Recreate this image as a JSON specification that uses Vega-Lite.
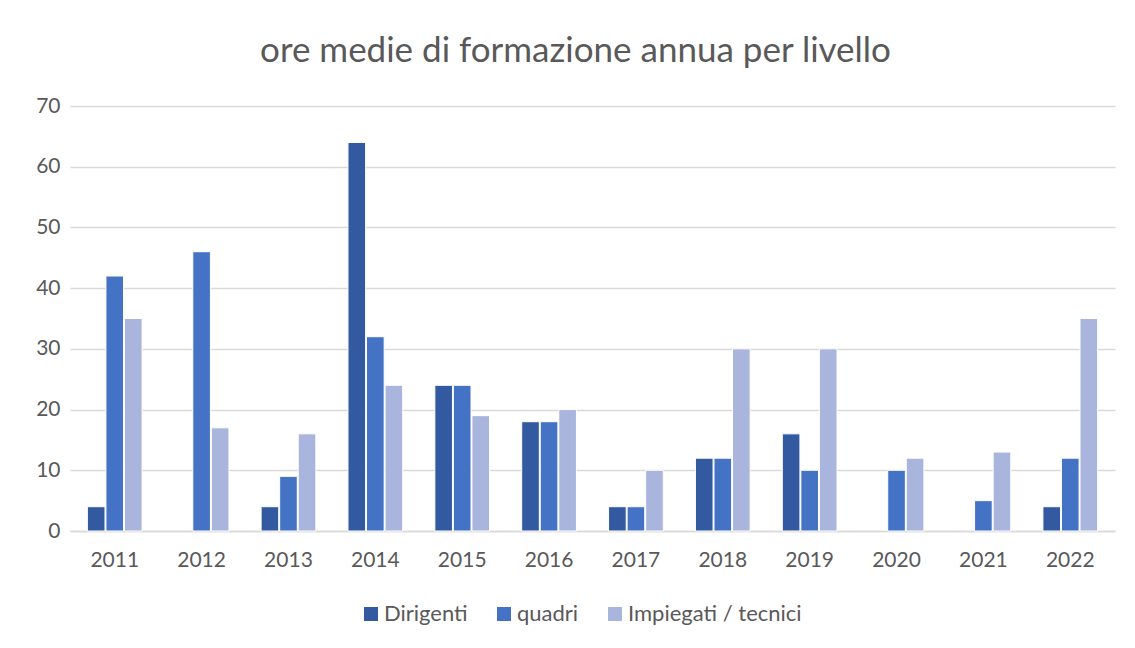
{
  "$schema": "https://vega.github.io/schema/vega-lite/v6.json",
  "autosize": "none",
  "width": 1045,
  "height": 425,
  "padding": {"left": 70, "top": 106, "right": 20, "bottom": 117},
  "background": "white",
  "title": {
    "text": "ore medie di formazione annua per livello",
    "fontSize": 35,
    "font": "Lato",
    "fontWeight": "normal",
    "color": "#595959",
    "anchor": "middle",
    "offset": 26,
    "dx": -17
  },
  "data": {
    "values": [
      {"anno": "2011", "livello": "Dirigenti", "ore": 4},
      {"anno": "2011", "livello": "quadri", "ore": 42},
      {"anno": "2011", "livello": "Impiegati / tecnici", "ore": 35},
      {"anno": "2012", "livello": "quadri", "ore": 46},
      {"anno": "2012", "livello": "Impiegati / tecnici", "ore": 17},
      {"anno": "2013", "livello": "Dirigenti", "ore": 4},
      {"anno": "2013", "livello": "quadri", "ore": 9},
      {"anno": "2013", "livello": "Impiegati / tecnici", "ore": 16},
      {"anno": "2014", "livello": "Dirigenti", "ore": 64},
      {"anno": "2014", "livello": "quadri", "ore": 32},
      {"anno": "2014", "livello": "Impiegati / tecnici", "ore": 24},
      {"anno": "2015", "livello": "Dirigenti", "ore": 24},
      {"anno": "2015", "livello": "quadri", "ore": 24},
      {"anno": "2015", "livello": "Impiegati / tecnici", "ore": 19},
      {"anno": "2016", "livello": "Dirigenti", "ore": 18},
      {"anno": "2016", "livello": "quadri", "ore": 18},
      {"anno": "2016", "livello": "Impiegati / tecnici", "ore": 20},
      {"anno": "2017", "livello": "Dirigenti", "ore": 4},
      {"anno": "2017", "livello": "quadri", "ore": 4},
      {"anno": "2017", "livello": "Impiegati / tecnici", "ore": 10},
      {"anno": "2018", "livello": "Dirigenti", "ore": 12},
      {"anno": "2018", "livello": "quadri", "ore": 12},
      {"anno": "2018", "livello": "Impiegati / tecnici", "ore": 30},
      {"anno": "2019", "livello": "Dirigenti", "ore": 16},
      {"anno": "2019", "livello": "quadri", "ore": 10},
      {"anno": "2019", "livello": "Impiegati / tecnici", "ore": 30},
      {"anno": "2020", "livello": "quadri", "ore": 10},
      {"anno": "2020", "livello": "Impiegati / tecnici", "ore": 12},
      {"anno": "2021", "livello": "quadri", "ore": 5},
      {"anno": "2021", "livello": "Impiegati / tecnici", "ore": 13},
      {"anno": "2022", "livello": "Dirigenti", "ore": 4},
      {"anno": "2022", "livello": "quadri", "ore": 12},
      {"anno": "2022", "livello": "Impiegati / tecnici", "ore": 35}
    ]
  },
  "mark": {"type": "bar", "stroke": "white", "strokeWidth": 1},
  "encoding": {
    "x": {
      "field": "anno",
      "type": "nominal",
      "title": null,
      "scale": {"paddingInner": 0.37, "paddingOuter": 0.2},
      "axis": {
        "labelAngle": 0,
        "labelFont": "Lato",
        "labelFontSize": 21,
        "labelColor": "#595959",
        "labelPadding": 18,
        "ticks": false,
        "domainColor": "#d9d9d9",
        "domainWidth": 1.5
      }
    },
    "xOffset": {
      "field": "livello",
      "type": "nominal",
      "sort": ["Dirigenti", "quadri", "Impiegati / tecnici"],
      "scale": {"domain": ["Dirigenti", "quadri", "Impiegati / tecnici"], "paddingInner": 0.05}
    },
    "y": {
      "field": "ore",
      "type": "quantitative",
      "title": null,
      "scale": {"domain": [0, 70], "nice": false},
      "axis": {
        "values": [0, 10, 20, 30, 40, 50, 60, 70],
        "labelFont": "Lato",
        "labelFontSize": 21,
        "labelColor": "#595959",
        "labelPadding": 10,
        "ticks": false,
        "domain": false,
        "gridColor": "#d9d9d9",
        "gridWidth": 1.5
      }
    },
    "color": {
      "field": "livello",
      "type": "nominal",
      "sort": ["Dirigenti", "quadri", "Impiegati / tecnici"],
      "scale": {
        "domain": ["Dirigenti", "quadri", "Impiegati / tecnici"],
        "range": ["#335AA1", "#4472C4", "#A9B5DC"]
      },
      "legend": {
        "title": null,
        "orient": "none",
        "legendX": 290,
        "legendY": 497,
        "direction": "horizontal",
        "symbolType": "square",
        "symbolSize": 196,
        "symbolStrokeWidth": 0,
        "labelFont": "Lato",
        "labelFontSize": 22,
        "labelColor": "#595959",
        "labelOffset": 2,
        "labelLimit": 400,
        "columnPadding": 25
      }
    }
  },
  "config": {"view": {"stroke": null}}
}
